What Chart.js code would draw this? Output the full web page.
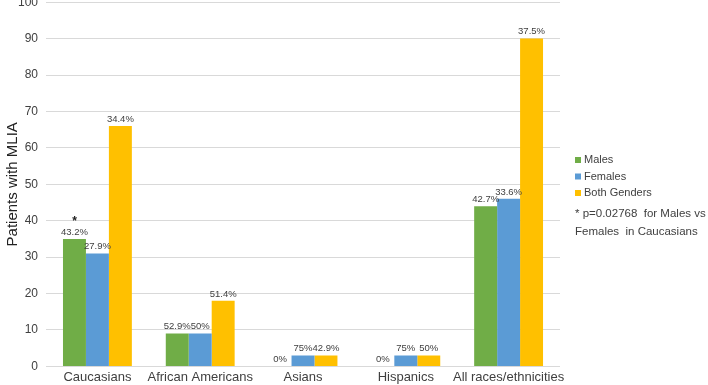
<!DOCTYPE html>
<html>
<head>
<meta charset="utf-8">
<script src="https://cdn.jsdelivr.net/npm/chart.js@4"></script>
<style>
  html, body { margin: 0; padding: 0; background: #fff; overflow: hidden; }
  #wrap { position: relative; width: 708px; height: 385px; overflow: hidden; }
  #chart { position: absolute; left: 0; top: -13px; }
</style>
</head>
<body>
<div id="wrap"><canvas id="chart" width="708" height="401"></canvas></div>
<script>
const categories = ["Caucasians", "African Americans", "Asians", "Hispanics", "All races/ethnicities"];
const males = [35, 9, 0, 0, 44];
const females = [31, 9, 3, 3, 46];
const bothGenders = [66, 18, 3, 3, 90];
const malesPct = ["43.2%", "52.9%", "0%", "0%", "42.7%"];
const femalesPct = ["27.9%", "50%", "75%", "75%", "33.6%"];
const bothPct = ["34.4%", "51.4%", "42.9%", "50%", "37.5%"];
const yTicks = [0, 10, 20, 30, 40, 50, 60, 70, 80, 90, 100];
const noteLines = ["* p=0.02768  for Males vs", "Females  in Caucasians"];

const fontFamily = "'Liberation Sans', Arial, sans-serif";
const textColor = "#404040";
const shift = 13; // canvas is moved up so the 100 label gets cut like the original

// percent labels on top of each bar, plus the star above Caucasian males
const barLabels = {
  id: "barLabels",
  afterDatasetsDraw(chart) {
    const ctx = chart.ctx;
    const pct = [malesPct, femalesPct, bothPct];
    ctx.save();
    ctx.font = "9.5px " + fontFamily;
    ctx.fillStyle = textColor;
    ctx.textAlign = "center";
    ctx.textBaseline = "bottom";
    chart.data.datasets.forEach((ds, i) => {
      chart.getDatasetMeta(i).data.forEach((bar, j) => {
        ctx.fillText(pct[i][j], bar.x, bar.y - 2);
      });
    });
    const star = chart.getDatasetMeta(0).data[0];
    ctx.font = "bold 12px " + fontFamily;
    ctx.fillStyle = "#222";
    ctx.fillText("*", star.x, star.y - 11);
    ctx.restore();
  }
};

// legend + significance note on the right
const sideLegend = {
  id: "sideLegend",
  afterDraw(chart) {
    const ctx = chart.ctx;
    const x = 575;
    const rows = [160, 176.5, 193];
    ctx.save();
    ctx.font = "11px " + fontFamily;
    ctx.fillStyle = textColor;
    ctx.textAlign = "left";
    ctx.textBaseline = "middle";
    chart.data.datasets.forEach((ds, i) => {
      const y = rows[i] + shift;
      ctx.fillStyle = ds.backgroundColor;
      ctx.fillRect(x, y - 3, 6, 6);
      ctx.fillStyle = textColor;
      ctx.fillText(ds.label, x + 9, y);
    });
    ctx.font = "11.5px " + fontFamily;
    noteLines.forEach((t, k) => ctx.fillText(t, x, 214 + shift + k * 18));
    ctx.restore();
  }
};

new Chart(document.getElementById("chart").getContext("2d"), {
  type: "bar",
  data: {
    labels: categories,
    datasets: [
      { label: "Males", data: males, backgroundColor: "#70AD47" },
      { label: "Females", data: females, backgroundColor: "#5B9BD5" },
      { label: "Both Genders", data: bothGenders, backgroundColor: "#FFC000" }
    ]
  },
  options: {
    responsive: false,
    animation: false,
    layout: { padding: { left: 4, right: 148, top: 0, bottom: 0 } },
    datasets: { bar: { barPercentage: 1, categoryPercentage: 0.67 } },
    scales: {
      x: {
        grid: { display: false, drawTicks: false },
        border: { display: false },
        ticks: { color: textColor, padding: 3, autoSkip: false, maxRotation: 0, font: { family: fontFamily, size: 13 } }
      },
      y: {
        min: 0,
        max: 100,
        afterBuildTicks: axis => { axis.ticks = yTicks.map(v => ({ value: v })); },
        grid: { color: "#d9d9d9", drawTicks: false },
        border: { display: false },
        ticks: { color: textColor, padding: 8, font: { family: fontFamily, size: 12 } },
        title: { display: true, text: "Patients with MLIA", color: "#222", padding: { top: 0, bottom: -12 }, font: { family: fontFamily, size: 15 } }
      }
    },
    plugins: {
      tooltip: { enabled: false },
      legend: { display: false }
    }
  },
  plugins: [barLabels, sideLegend]
});
</script>
</body>
</html>
